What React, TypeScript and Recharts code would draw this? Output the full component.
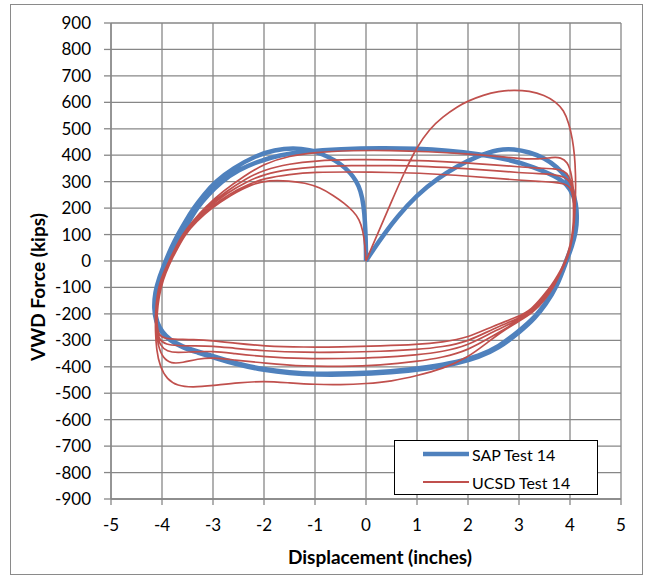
import React from "react";
import { LineChart, Line, XAxis, YAxis, CartesianGrid } from "recharts";

type Pt = [number, number];

const xTicks = [-5, -4, -3, -2, -1, 0, 1, 2, 3, 4, 5];
const yTicks = [
  -900, -800, -700, -600, -500, -400, -300, -200, -100, 0, 100, 200, 300, 400,
  500, 600, 700, 800, 900,
];

// SAP model: displacement (in) vs VWD force (kips)
const sapFirstLoad: Pt[] = [
  [0, 0], [0.15, 45], [0.35, 100], [0.6, 165], [1.0, 250], [1.4, 312], [1.8, 360],
  [2.2, 398], [2.6, 423], [2.9, 424], [3.2, 412], [3.5, 390], [3.75, 355],
  [3.93, 318], [4.05, 270], [4.12, 215], [4.14, 170],
];
const sapCycle1: Pt[] = [
  [4.12, 110], [4.03, 50], [3.92, 0], [3.73, -100], [3.5, -165], [3.3, -215],
  [3.0, -265], [2.6, -325], [2.2, -360], [1.8, -382], [1.2, -402], [0.5, -418],
  [-0.3, -426], [-1.0, -427], [-1.5, -422], [-2.0, -410], [-2.5, -390],
  [-3.0, -360], [-3.3, -342], [-3.6, -324], [-3.85, -298], [-4.0, -268],
  [-4.1, -232], [-4.15, -185], [-4.13, -125], [-4.04, -60], [-3.92, -10],
  [-3.78, 50], [-3.61, 100], [-3.47, 150], [-3.32, 200], [-3.1, 250],
  [-2.84, 300], [-2.5, 345], [-2.1, 378], [-1.7, 400], [-1.2, 415], [-0.5, 424],
  [0.3, 427], [1.0, 425], [1.6, 418], [2.2, 405], [2.8, 384], [3.3, 355],
  [3.7, 322], [3.95, 290], [4.08, 245], [4.14, 190],
];
const sapCycle2: Pt[] = [
  [4.13, 120], [4.04, 55], [3.93, 0], [3.74, -100], [3.52, -165], [3.32, -215],
  [3.02, -268], [2.6, -330], [2.2, -365], [1.8, -387], [1.2, -407], [0.5, -422],
  [-0.3, -430], [-1.0, -430], [-1.5, -425], [-2.0, -413], [-2.5, -393],
  [-3.0, -364], [-3.3, -346], [-3.6, -327], [-3.85, -300], [-4.02, -268],
  [-4.12, -230], [-4.16, -180],
];
const sapUnload: Pt[] = [
  [-4.14, -120], [-4.05, -60], [-3.94, -5], [-3.82, 50], [-3.69, 100],
  [-3.54, 150], [-3.38, 200], [-3.18, 250], [-2.96, 300], [-2.6, 352],
  [-2.14, 400], [-1.8, 420], [-1.42, 428], [-1.1, 420], [-0.85, 404],
  [-0.6, 380], [-0.4, 352], [-0.25, 320], [-0.14, 285], [-0.07, 240],
  [-0.03, 180], [-0.01, 110], [0, 40], [0, 0],
];

// UCSD test record
const ucsdFirstLoad: Pt[] = [
  [0, 0], [0.12, 55], [0.25, 112], [0.5, 225], [0.75, 335], [1.0, 432],
  [1.25, 500], [1.5, 545], [1.8, 585], [2.0, 605], [2.3, 628], [2.6, 642],
  [2.9, 647], [3.2, 643], [3.5, 628], [3.72, 602], [3.88, 570], [3.98, 520],
  [4.05, 460], [4.09, 400], [4.11, 330], [4.11, 260],
];
const ucsdCycle1: Pt[] = [
  [4.1, 190], [4.07, 110], [4.0, 40], [3.93, 0], [3.8, -50], [3.68, -100],
  [3.5, -148], [3.28, -195], [3.0, -228], [2.7, -262], [2.4, -305], [2.0, -365],
  [1.5, -408], [1.0, -434], [0.5, -455], [0, -464], [-0.5, -468], [-1.0, -467],
  [-1.5, -461], [-2.0, -454], [-2.5, -460], [-3.0, -471], [-3.4, -478],
  [-3.7, -472], [-3.9, -448], [-4.04, -400], [-4.11, -335], [-4.13, -265],
  [-4.13, -200], [-4.1, -130], [-4.02, -65], [-3.9, -15], [-3.75, 45],
  [-3.6, 100], [-3.4, 150], [-3.15, 205], [-2.8, 265], [-2.4, 320], [-2.0, 368],
  [-1.5, 398], [-1.0, 411], [-0.3, 418], [0.5, 418], [1.2, 414], [2.0, 405],
  [2.5, 397], [3.0, 387], [3.4, 385], [3.65, 392], [3.82, 392], [3.95, 375],
  [4.03, 330], [4.07, 270],
];
const ucsdCycle2: Pt[] = [
  [4.09, 200], [4.07, 120], [4.0, 45], [3.93, 5], [3.8, -45], [3.68, -95],
  [3.5, -145], [3.28, -193], [3.0, -226], [2.5, -282], [2.0, -338], [1.5, -365],
  [1.0, -380], [0.3, -394], [-0.5, -399], [-1.2, -399], [-2.0, -386],
  [-2.6, -374], [-3.0, -365], [-3.3, -370], [-3.6, -385], [-3.82, -388],
  [-3.98, -368], [-4.08, -320], [-4.12, -255], [-4.12, -190], [-4.08, -125],
  [-4.0, -62], [-3.88, -12], [-3.73, 45], [-3.58, 100], [-3.38, 150],
  [-3.12, 205], [-2.75, 262], [-2.35, 312], [-2.0, 345], [-1.5, 368],
  [-1.0, 379], [-0.3, 384], [0.5, 383], [1.2, 379], [2.0, 371], [2.5, 364],
  [3.0, 356], [3.4, 351], [3.7, 349], [3.88, 342], [3.98, 322], [4.05, 285],
  [4.08, 235],
];
const ucsdCycle3: Pt[] = [
  [4.08, 170], [4.06, 105], [3.98, 35], [3.9, -10], [3.78, -55], [3.66, -98],
  [3.48, -142], [3.27, -190], [3.0, -222], [2.5, -266], [2.0, -320],
  [1.5, -343], [1.0, -355], [0.3, -366], [-0.5, -369], [-1.2, -370],
  [-2.0, -362], [-2.6, -350], [-3.0, -341], [-3.4, -343], [-3.7, -347],
  [-3.9, -342], [-4.04, -320], [-4.1, -275], [-4.11, -215], [-4.07, -140],
  [-3.99, -70], [-3.87, -15], [-3.72, 45], [-3.57, 100], [-3.36, 150],
  [-3.1, 203], [-2.72, 258], [-2.32, 302], [-2.0, 328], [-1.5, 347],
  [-1.0, 357], [-0.3, 361], [0.5, 361], [1.2, 358], [2.0, 349], [2.5, 342],
  [3.0, 334], [3.4, 330], [3.7, 327], [3.9, 318], [4.0, 300], [4.06, 265],
  [4.08, 215],
];
const ucsdCycle4: Pt[] = [
  [4.08, 160], [4.05, 95], [3.97, 30], [3.89, -10], [3.77, -55], [3.65, -95],
  [3.47, -138], [3.26, -186], [3.0, -217], [2.5, -255], [2.0, -305],
  [1.5, -325], [1.0, -335], [0.3, -342], [-0.5, -345], [-1.2, -346],
  [-2.0, -340], [-2.6, -330], [-3.0, -321], [-3.4, -321], [-3.7, -320],
  [-3.92, -316], [-4.05, -300], [-4.1, -260], [-4.1, -200], [-4.06, -135],
  [-3.98, -70], [-3.86, -15], [-3.71, 45], [-3.56, 100], [-3.34, 150],
  [-3.07, 200], [-2.68, 255], [-2.28, 292], [-2.0, 312], [-1.5, 328],
  [-1.0, 336], [-0.3, 337], [0.5, 335], [1.2, 331], [2.0, 321], [2.5, 313],
  [3.0, 306], [3.4, 301], [3.7, 298], [3.9, 292], [4.0, 280], [4.06, 250],
  [4.07, 200],
];
const ucsdCycle5: Pt[] = [
  [4.07, 150], [4.04, 90], [3.96, 28], [3.88, -12], [3.76, -55], [3.64, -92],
  [3.46, -135], [3.25, -182], [3.0, -210], [2.5, -245], [2.0, -290],
  [1.5, -307], [1.0, -316], [0.3, -321], [-0.5, -325], [-1.2, -326],
  [-2.0, -322], [-2.6, -310], [-3.0, -301], [-3.4, -297], [-3.7, -296],
  [-3.93, -294], [-4.06, -282], [-4.1, -245], [-4.1, -190],
];
const ucsdUnload: Pt[] = [
  [-4.07, -130], [-3.99, -68], [-3.87, -15], [-3.7, 45], [-3.55, 100],
  [-3.32, 150], [-3.05, 197], [-2.65, 250], [-2.25, 290], [-1.9, 306],
  [-1.5, 303], [-1.2, 296], [-0.9, 278], [-0.64, 248], [-0.42, 218],
  [-0.25, 188], [-0.13, 158], [-0.06, 115], [-0.02, 60], [0, 0],
];

const toRows = (pts: Pt[]) => pts.map(([x, y]) => ({ x, y }));

const sapRows = toRows([...sapFirstLoad, ...sapCycle1, ...sapCycle2, ...sapUnload]);
const ucsdRows = toRows([
  ...ucsdFirstLoad,
  ...ucsdCycle1,
  ...ucsdCycle2,
  ...ucsdCycle3,
  ...ucsdCycle4,
  ...ucsdCycle5,
  ...ucsdUnload,
]);

const FONT = "Lato, 'Open Sans', sans-serif";
const GRID = "#878787";
const BLUE = "#4F81BD";
const RED = "#C0504D";

function LegendBox() {
  const row = (color: string, width: number, label: string, top: number) => (
    <div
      style={{
        position: "absolute",
        left: 27,
        top,
        height: 20,
        display: "flex",
        alignItems: "center",
      }}
    >
      <svg width={48} height={20}>
        <line x1={1} y1={10} x2={47} y2={10} stroke={color} strokeWidth={width} />
      </svg>
      <span style={{ marginLeft: 2, fontSize: 16, color: "#000" }}>{label}</span>
    </div>
  );
  return (
    <div
      style={{
        position: "absolute",
        left: 394,
        top: 440,
        width: 202,
        height: 53,
        border: "1.3px solid #000",
        background: "#fff",
        fontFamily: FONT,
      }}
    >
      {row(BLUE, 4.5, "SAP Test 14", 3)}
      {row(RED, 2, "UCSD Test 14", 31)}
    </div>
  );
}

export default function App() {
  return (
    <div
      style={{
        position: "absolute",
        left: 0,
        top: 0,
        width: 648,
        height: 577,
        background: "#fff",
        fontFamily: FONT,
      }}
    >
      <div
        style={{
          position: "absolute",
          left: 10,
          top: 4,
          width: 631,
          height: 569,
          border: "1px solid #8a8a8a",
        }}
      />
      <div style={{ position: "absolute", left: 0, top: 0 }}>
        <LineChart
          width={648}
          height={577}
          margin={{ top: 23, right: 27, bottom: 48, left: 51 }}
        >
          <CartesianGrid stroke={GRID} strokeWidth={1.3} />
          <XAxis
            type="number"
            dataKey="x"
            domain={[-5, 5]}
            ticks={xTicks}
            interval={0}
            allowDataOverflow
            height={30}
            tickSize={6}
            tickMargin={14}
            stroke={GRID}
            strokeWidth={1.3}
            tick={{ fill: "#000", fontSize: 17, fontFamily: FONT }}
          />
          <YAxis
            type="number"
            domain={[-900, 900]}
            ticks={yTicks}
            interval={0}
            allowDataOverflow
            width={60}
            tickSize={7}
            tickMargin={13}
            stroke={GRID}
            strokeWidth={1.3}
            tick={{ fill: "#000", fontSize: 17, fontFamily: FONT }}
          />
          <Line
            data={sapRows}
            dataKey="y"
            type="basis"
            stroke={BLUE}
            strokeWidth={4.5}
            strokeLinejoin="round"
            dot={false}
            activeDot={false}
            isAnimationActive={false}
          />
          <Line
            data={ucsdRows}
            dataKey="y"
            type="basis"
            stroke={RED}
            strokeWidth={1.7}
            strokeLinejoin="round"
            dot={false}
            activeDot={false}
            isAnimationActive={false}
          />
        </LineChart>
      </div>
      <LegendBox />
      <div
        style={{
          position: "absolute",
          left: 0,
          width: 760,
          top: 545,
          textAlign: "center",
          fontWeight: 700,
          fontSize: 19,
          color: "#000",
        }}
      >
        Displacement (inches)
      </div>
      <div
        style={{
          position: "absolute",
          left: 37,
          top: 287,
          transform: "translate(-50%, -50%) rotate(-90deg)",
          whiteSpace: "nowrap",
          fontWeight: 700,
          fontSize: 19,
          color: "#000",
        }}
      >
        VWD Force (kips)
      </div>
    </div>
  );
}
